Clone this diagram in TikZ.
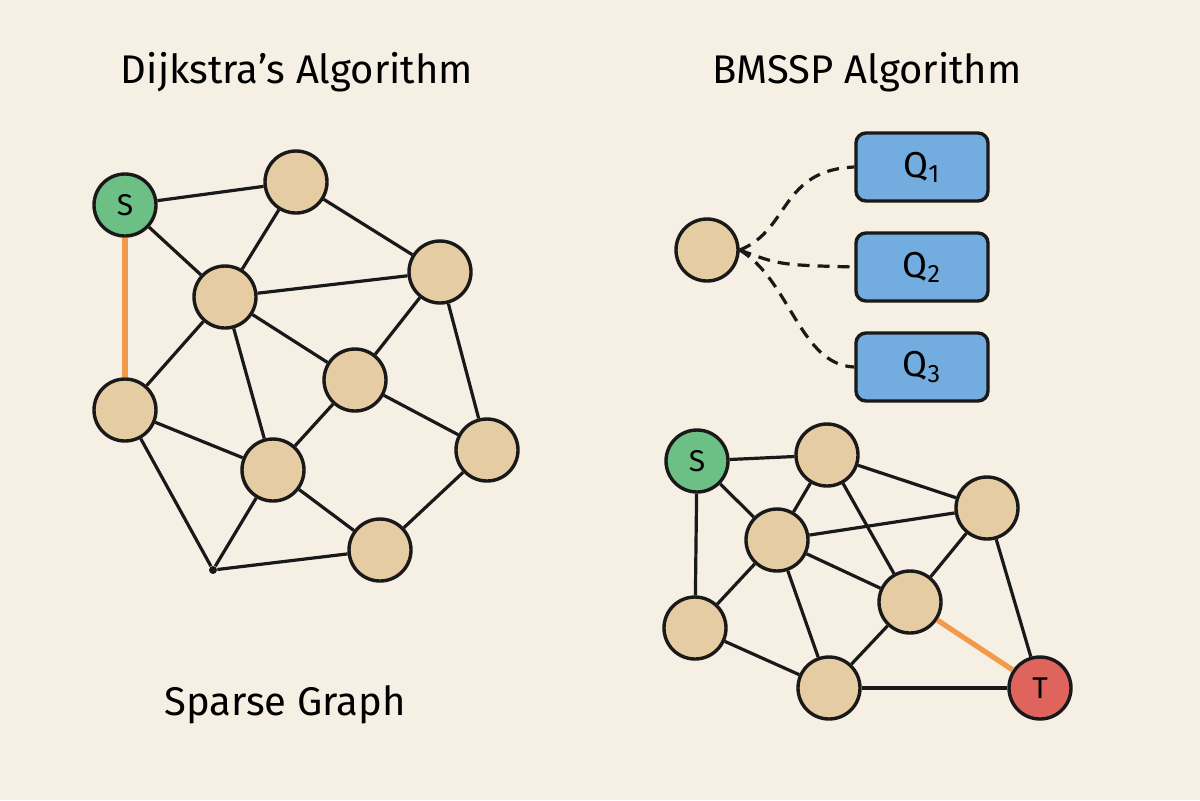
\documentclass[tikz,border=0pt]{standalone}
\usepackage{fontspec}
\setmainfont{Fira Sans}
\begin{document}
\begin{tikzpicture}[x=0.5pt,y=-0.5pt,
  v/.style={circle,draw=black!90,line width=1.7pt,fill=tan0,minimum size=31pt,inner sep=0pt},
  e/.style={draw=black!90,line width=1.6pt},
  hl/.style={draw=orng,line width=2.6pt},
  q/.style={rounded corners=5pt,draw=black!90,line width=1.7pt,fill=qblue,minimum width=66pt,minimum height=34pt,font=\fontsize{18}{20}\selectfont},
  ttl/.style={font=\fontsize{20}{23}\selectfont}]
\definecolor{bg}{HTML}{F6EFE4}
\definecolor{tan0}{HTML}{E6CCA2}
\definecolor{grn}{HTML}{6CBF85}
\definecolor{redn}{HTML}{E0645E}
\definecolor{qblue}{HTML}{73ADDF}
\definecolor{orng}{HTML}{F2994A}
\fill[bg] (0,0) rectangle (1200,800);
\useasboundingbox (0,0) rectangle (1200,800);
\node[ttl] (t1) at (297,72) {Dijkstra’s Algorithm};
\node[ttl] (t2) at (867,72) {BMSSP Algorithm};
\node[ttl] (t3) at (285,705) {Sparse Graph};
% left graph
\node[v,fill=grn,font=\fontsize{15}{17}\selectfont] (S) at (125,205) {S};
\node[v] (A) at (296,182) {};
\node[v] (B) at (225,297) {};
\node[v] (C) at (440,272) {};
\node[v] (D) at (125,410) {};
\node[v] (E) at (355,380) {};
\node[v] (F) at (487,450) {};
\node[v] (G) at (273,470) {};
\node[v] (H) at (380,550) {};
\node[circle,fill=black!90,inner sep=0pt,minimum size=4pt] (P) at (213,570) {};
\draw[hl] (S) -- (D);
\foreach \a/\b in {S/A,S/B,A/B,A/C,B/C,B/D,B/G,B/E,E/C,C/F,E/F,E/G,D/G,D/P,G/P,G/H,P/H,F/H}
  \draw[e] (\a) -- (\b);
% right top
\node[v] (N) at (707,250) {};
\node[q] (Q1) at (922,167) {Q\textsubscript{1}};
\node[q] (Q2) at (922,267) {Q\textsubscript{2}};
\node[q] (Q3) at (922,367) {Q\textsubscript{3}};
\draw[e,dash pattern=on 6pt off 4pt] (N.east) .. controls (790,230) and (780,170) .. (Q1.west);
\draw[e,dash pattern=on 6pt off 4pt] (N.east) .. controls (780,265) .. (Q2.west);
\draw[e,dash pattern=on 6pt off 4pt] (N.east) .. controls (790,280) and (800,365) .. (Q3.west);
% right graph
\node[v,fill=grn,font=\fontsize{15}{17}\selectfont] (S2) at (697,461) {S};
\node[v] (a) at (827,455) {};
\node[v] (b) at (777,540) {};
\node[v] (c) at (987,508) {};
\node[v] (d) at (695,628) {};
\node[v] (e2) at (910,602) {};
\node[v] (f) at (829,688) {};
\node[v,fill=redn,font=\fontsize{15}{17}\selectfont] (T) at (1040,688) {T};
\draw[hl] (e2) -- (T);
\foreach \a/\b in {S2/a,S2/d,S2/b,a/b,a/c,a/e2,b/c,b/d,b/e2,b/f,c/e2,c/T,d/f,e2/f,f/T}
  \draw[e] (\a) -- (\b);
\end{tikzpicture}
\end{document}
